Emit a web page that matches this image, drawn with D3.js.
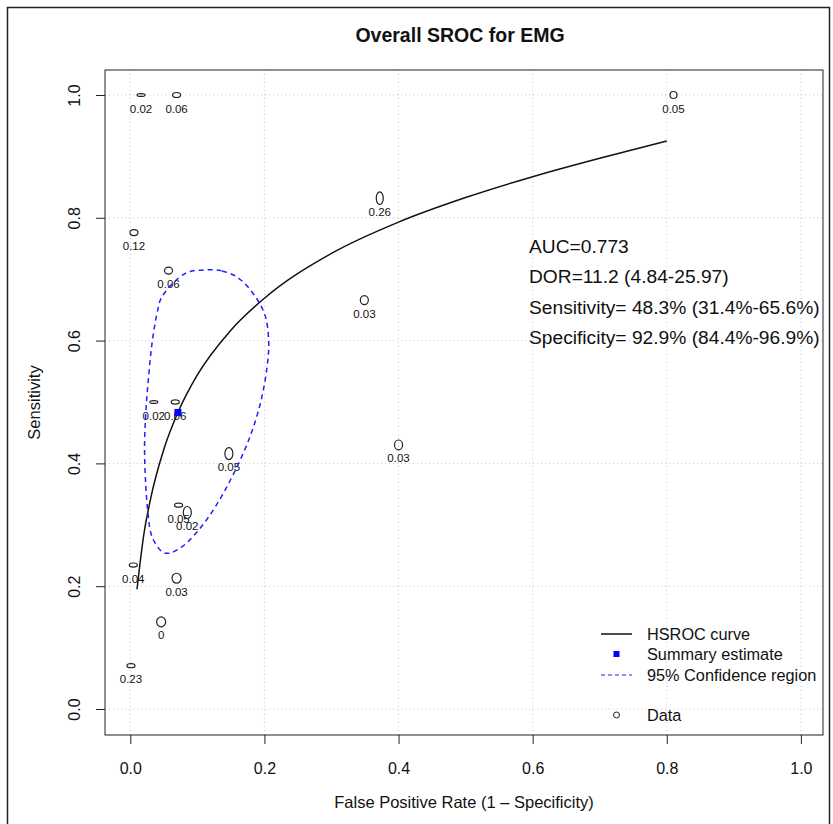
<!DOCTYPE html>
<html>
<head>
<meta charset="utf-8">
<script src="https://cdn.jsdelivr.net/npm/d3@7"></script>
<style>
  body { margin: 0; background: #fff; }
  text { font-family: "Liberation Sans", Arial, Helvetica, sans-serif; fill: #111; }
</style>
</head>
<body>
<div id="chart"></div>
<script>
// one entry per study: false positive rate, sensitivity, weight label
let studyFpr  = [0.016, 0.069, 0.81, 0.0055, 0.057, 0.372, 0.349, 0.40, 0.147, 0.035, 0.067, 0.072, 0.085, 0.0045, 0.069, 0.046, 0.001];
let studySens = [1.0, 1.0, 1.0, 0.776, 0.714, 0.832, 0.666, 0.430, 0.416, 0.500, 0.500, 0.332, 0.320, 0.2345, 0.213, 0.142, 0.0705];
let studyWeight = ['0.02', '0.06', '0.05', '0.12', '0.06', '0.26', '0.03', '0.03', '0.05', '0.02', '0.06', '0.05', '0.02', '0.04', '0.03', '0', '0.23'];
// half axes of the study ellipses (fpr units, sensitivity units)
let ellFpr  = [0.006, 0.006, 0.0052, 0.006, 0.006, 0.0052, 0.006, 0.006, 0.006, 0.006, 0.006, 0.006, 0.006, 0.006, 0.0067, 0.0067, 0.006];
let ellSens = [0.0024, 0.0041, 0.0057, 0.0049, 0.0057, 0.0103, 0.0073, 0.0081, 0.0098, 0.0024, 0.0033, 0.0033, 0.0098, 0.0033, 0.0081, 0.0081, 0.0033];

// HSROC curve
let curveFpr  = [0.010, 0.02, 0.03, 0.05, 0.071, 0.1, 0.15, 0.2, 0.3, 0.4, 0.5, 0.6, 0.7, 0.8];
let curveSens = [0.195, 0.283, 0.341, 0.423, 0.483, 0.544, 0.617, 0.669, 0.742, 0.793, 0.833, 0.867, 0.897, 0.925];

// 95% confidence region outline
let regionFpr  = [0.1094, 0.1369, 0.1616, 0.1866, 0.2015, 0.2064, 0.204, 0.194, 0.1766, 0.1518, 0.1269, 0.1019, 0.0772, 0.0572, 0.0473, 0.0324, 0.0264, 0.0224, 0.0213, 0.0234, 0.0273, 0.0324, 0.0399, 0.0473, 0.0821];
let regionSens = [0.715, 0.7134, 0.7015, 0.6715, 0.639, 0.5956, 0.5575, 0.4979, 0.4381, 0.3783, 0.3295, 0.2915, 0.2643, 0.2536, 0.2562, 0.2806, 0.3187, 0.3783, 0.4327, 0.487, 0.5412, 0.5956, 0.6445, 0.6715, 0.7096];

let summary = {fpr: 0.071, sens: 0.483};
let ticks = [0, 0.2, 0.4, 0.6, 0.8, 1.0];
let stats = ['AUC=0.773', 'DOR=11.2 (4.84-25.97)', 'Sensitivity= 48.3% (31.4%-65.6%)', 'Specificity= 92.9% (84.4%-96.9%)'];
let legendItems = ['HSROC curve', 'Summary estimate', '95% Confidence region', 'Data'];

let width = 833, height = 824,
    box = {left: 105, right: 823, top: 70, bottom: 735};

let x = d3.scaleLinear().domain([0, 1]).range([130.3, 800.9]);
let y = d3.scaleLinear().domain([0, 1]).range([709, 95]);

let svg = d3.select('#chart')
  .append('svg')
    .attr('width', width)
    .attr('height', height);

// outer frame
svg.append('rect')
  .attr('x', 7.5).attr('y', 7.5)
  .attr('width', 822).attr('height', 840)
  .attr('fill', 'none').attr('stroke', '#222').attr('stroke-width', 1.5);

// grid
let grid = svg.append('g')
  .attr('stroke', '#c8c8c8').attr('stroke-dasharray', '1,3');
grid.selectAll('line.gx')
  .data(ticks)
  .enter().append('line')
    .attr('x1', d => x(d)).attr('x2', d => x(d))
    .attr('y1', box.top).attr('y2', box.bottom);
grid.selectAll('line.gy')
  .data(ticks)
  .enter().append('line')
    .attr('y1', d => y(d)).attr('y2', d => y(d))
    .attr('x1', box.left).attr('x2', box.right);

// axes
let xAxis = svg.append('g')
  .attr('transform', `translate(0,${box.bottom})`)
  .call(d3.axisBottom(x).tickValues(ticks).tickSize(9).tickFormat(d3.format('.1f')));
xAxis.select('.domain').remove();
xAxis.selectAll('text')
  .attr('y', 39).attr('dy', 0)
  .style('font-size', '16px');

let yAxis = svg.append('g')
  .attr('transform', `translate(${box.left},0)`)
  .call(d3.axisLeft(y).tickValues(ticks).tickSize(9).tickFormat(d3.format('.1f')));
yAxis.select('.domain').remove();
yAxis.selectAll('text')
  .attr('transform', 'rotate(-90)')
  .attr('x', 0).attr('y', -25).attr('dy', 0)
  .attr('text-anchor', 'middle')
  .style('font-size', '16px');
svg.selectAll('.tick line').attr('stroke', '#222');
svg.selectAll('.tick text').attr('fill', '#111');

// plot box
svg.append('rect')
  .attr('x', box.left).attr('y', box.top)
  .attr('width', box.right - box.left).attr('height', box.bottom - box.top)
  .attr('fill', 'none').attr('stroke', '#222').attr('stroke-width', 1);

// titles
svg.append('text')
  .attr('x', 460).attr('y', 42)
  .attr('text-anchor', 'middle')
  .style('font-size', '19.5px').style('font-weight', 'bold')
  .text('Overall SROC for EMG');
svg.append('text')
  .attr('x', 464).attr('y', 808)
  .attr('text-anchor', 'middle')
  .style('font-size', '16.5px')
  .text('False Positive Rate (1 \u2013 Specificity)');
svg.append('text')
  .attr('transform', `translate(40,${(box.top + box.bottom) / 2}) rotate(-90)`)
  .attr('text-anchor', 'middle')
  .style('font-size', '16.5px')
  .text('Sensitivity');

// study ellipses and labels
let studies = studyFpr.map((f, i) => ({fpr: f, sens: studySens[i], w: studyWeight[i], rx: ellFpr[i], ry: ellSens[i]}));
let st = svg.selectAll('g.study')
  .data(studies)
  .enter().append('g')
    .attr('class', 'study');
st.append('ellipse')
  .attr('cx', d => x(d.fpr)).attr('cy', d => y(d.sens))
  .attr('rx', d => x(d.rx) - x(0)).attr('ry', d => y(0) - y(d.ry))
  .attr('fill', 'none').attr('stroke', '#222').attr('stroke-width', 1.2);
st.append('text')
  .attr('x', d => x(d.fpr)).attr('y', d => y(d.sens) + 17.5)
  .attr('text-anchor', 'middle')
  .style('font-size', '11.5px')
  .text(d => d.w);

// HSROC curve
let curveData = curveFpr.map((f, i) => [f, curveSens[i]]);
svg.append('path')
  .datum(curveData)
  .attr('fill', 'none').attr('stroke', '#111').attr('stroke-width', 1.5)
  .attr('d', d3.line().x(d => x(d[0])).y(d => y(d[1])).curve(d3.curveMonotoneX));

// confidence region
let regionData = regionFpr.map((f, i) => [f, regionSens[i]]);
svg.append('path')
  .datum(regionData)
  .attr('fill', 'none').attr('stroke', '#1f1fff').attr('stroke-width', 1.5)
  .attr('stroke-dasharray', '5,4')
  .attr('d', d3.line().x(d => x(d[0])).y(d => y(d[1])).curve(d3.curveCatmullRomClosed));

// summary estimate
svg.append('rect')
  .attr('x', x(summary.fpr) - 3.5).attr('y', y(summary.sens) - 3.5)
  .attr('width', 7).attr('height', 7)
  .attr('fill', '#0000ff');

// statistics text
svg.selectAll('text.stat')
  .data(stats)
  .enter().append('text')
    .attr('class', 'stat')
    .attr('x', 529).attr('y', (d, i) => 253 + i * 30.3)
    .style('font-size', '19.2px')
    .text(d => d);

// legend
let lg = svg.append('g').attr('transform', 'translate(601,0)');
let legendY = [634, 654, 675, 715];
lg.append('line').attr('x1', 0).attr('x2', 31).attr('y1', legendY[0]).attr('y2', legendY[0])
  .attr('stroke', '#111').attr('stroke-width', 1.5);
lg.append('rect').attr('x', 12.5).attr('y', legendY[1] - 3).attr('width', 6).attr('height', 6)
  .attr('fill', '#0000ff');
lg.append('line').attr('x1', 0).attr('x2', 31).attr('y1', legendY[2]).attr('y2', legendY[2])
  .attr('stroke', '#1f1fff').attr('stroke-width', 1.2).attr('stroke-dasharray', '4,3');
lg.append('circle').attr('cx', 15.5).attr('cy', legendY[3]).attr('r', 3)
  .attr('fill', 'none').attr('stroke', '#222').attr('stroke-width', 1);
lg.selectAll('text')
  .data(legendItems)
  .enter().append('text')
    .attr('x', 46).attr('y', (d, i) => legendY[i] + 6)
    .style('font-size', '16.3px')
    .text(d => d);
</script>
</body>
</html>
